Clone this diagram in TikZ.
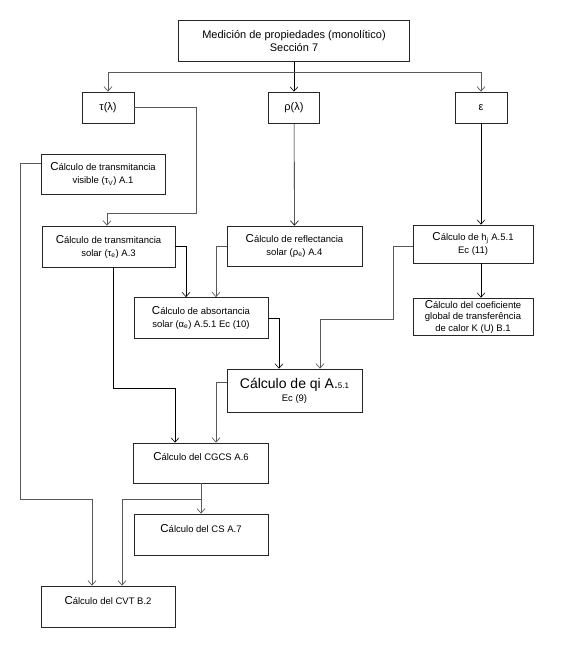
\documentclass[tikz,border=0pt]{standalone}
\usepackage{fontspec}
\setmainfont{Liberation Sans}
\usetikzlibrary{arrows.meta,positioning}

\newcommand{\bigC}{{\fontsize{11.5}{12}\selectfont C}}

\begin{document}
\begin{tikzpicture}[
    x=1pt, y=-1pt,
    box/.style={
        rectangle, draw=black!85, line width=0.7pt, align=center,
        font=\fontsize{9.5}{13}\selectfont, inner sep=1pt
    },
    arrow/.style={-{Straight Barb[length=4.5pt,width=8pt]}, black, line width=0.6pt},
    garrow/.style={-{Straight Barb[length=4.5pt,width=8pt]}, black!65, line width=0.7pt}
]
\useasboundingbox (0,0) rectangle (567,645);

\node[box, minimum width=231, minimum height=41, font=\fontsize{11}{13}\selectfont] (med) at (294,41)
    {Medición de propiedades (monolítico)\\Sección 7};
\node[box, minimum width=52, minimum height=31, font=\fontsize{11}{13}\selectfont] (tau) at (108,107.5) {τ(λ)};
\node[box, minimum width=51, minimum height=31, font=\fontsize{11}{13}\selectfont] (rho) at (294,107.5) {ρ(λ)};
\node[box, minimum width=52, minimum height=31, font=\fontsize{11}{13}\selectfont] (eps) at (481,107.5) {ε};

\node[box, minimum width=124, minimum height=40] (vis) at (103,174)
    {\bigC álculo de transmitancia\\visible (τ\textsubscript{V}) A.1};
\node[box, minimum width=133, minimum height=41] (tsol) at (108.5,246.5)
    {\bigC álculo de transmitancia\\solar (τ\textsubscript{e}) A.3};
\node[box, minimum width=135, minimum height=40] (refl) at (294.5,246)
    {\bigC álculo de reflectancia\\solar (ρ\textsubscript{e}) A.4};
\node[box, minimum width=120, minimum height=38] (hi) at (473,244)
    {\bigC álculo de h\textsubscript{j} A.5.1\\Ec (11)};
\node[box, minimum width=134, minimum height=41] (abs) at (201,318)
    {\bigC álculo de absortancia\\solar (α\textsubscript{e}) A.5.1 Ec (10)};
\node[box, minimum width=120, minimum height=37, font=\fontsize{9.5}{11.5}\selectfont] (ku) at (473,316.5)
    {\bigC álculo del coeficiente\\global de transferência\\de calor K (U) B.1};
\node[box, minimum width=135, minimum height=43] (qi) at (294.5,390.5)
    {{\fontsize{14}{16}\selectfont Cálculo de qi A.{\fontsize{8}{8}\selectfont 5.1}}\\Ec (9)};
\node[box, minimum width=135, minimum height=40] (cgcs) at (201,463)
    {\bigC álculo del CGCS A.6\\~};
\node[box, minimum width=134, minimum height=41] (cs) at (201,534.5)
    {\bigC álculo del CS A.7\\~};
\node[box, minimum width=134, minimum height=41] (cvt) at (108,606.5)
    {\bigC álculo del CVT B.2\\~};

% top level
\coordinate (bus) at (294,72);
\draw[arrow] (med) -- (rho);
\draw[garrow] (bus) -| (tau.north);
\draw[garrow] (bus) -| (eps.north);

% left column
\draw[garrow] (tau.east) -| (196,213) -| ([xshift=-1.5pt]tsol.north);
\draw[garrow] ([yshift=11pt]vis.west) -| (20,499) -| ([xshift=-16pt]cvt.north);
\draw[arrow] (tsol.east) -| ([xshift=-15pt]abs.north);
\draw[arrow] ([xshift=4.5pt]tsol.south) |- (175,388) -- ([xshift=-26pt]cgcs.north);

% middle and right
\draw[arrow] (rho) -- (refl);
\draw[garrow] (refl.west) -| ([xshift=15pt]abs.north);
\draw[arrow] (eps) -- (eps |- hi.north);
\draw[arrow] (hi.south -| eps) -- (ku.north -| eps);
\draw[garrow] ([yshift=-2pt]hi.west) -| (393,319) -| ([xshift=25.5pt]qi.north);
\draw[arrow] (abs.east) -| ([xshift=-15.5pt]qi.north);
\draw[garrow] ([yshift=8.5pt]qi.west) -| ([xshift=15pt]cgcs.north);

% bottom
\coordinate (split) at (201,499);
\draw[garrow] (cgcs.south) -- (cs.north);
\draw[garrow] (split) -| ([xshift=14pt]cvt.north);
\end{tikzpicture}
\end{document}
